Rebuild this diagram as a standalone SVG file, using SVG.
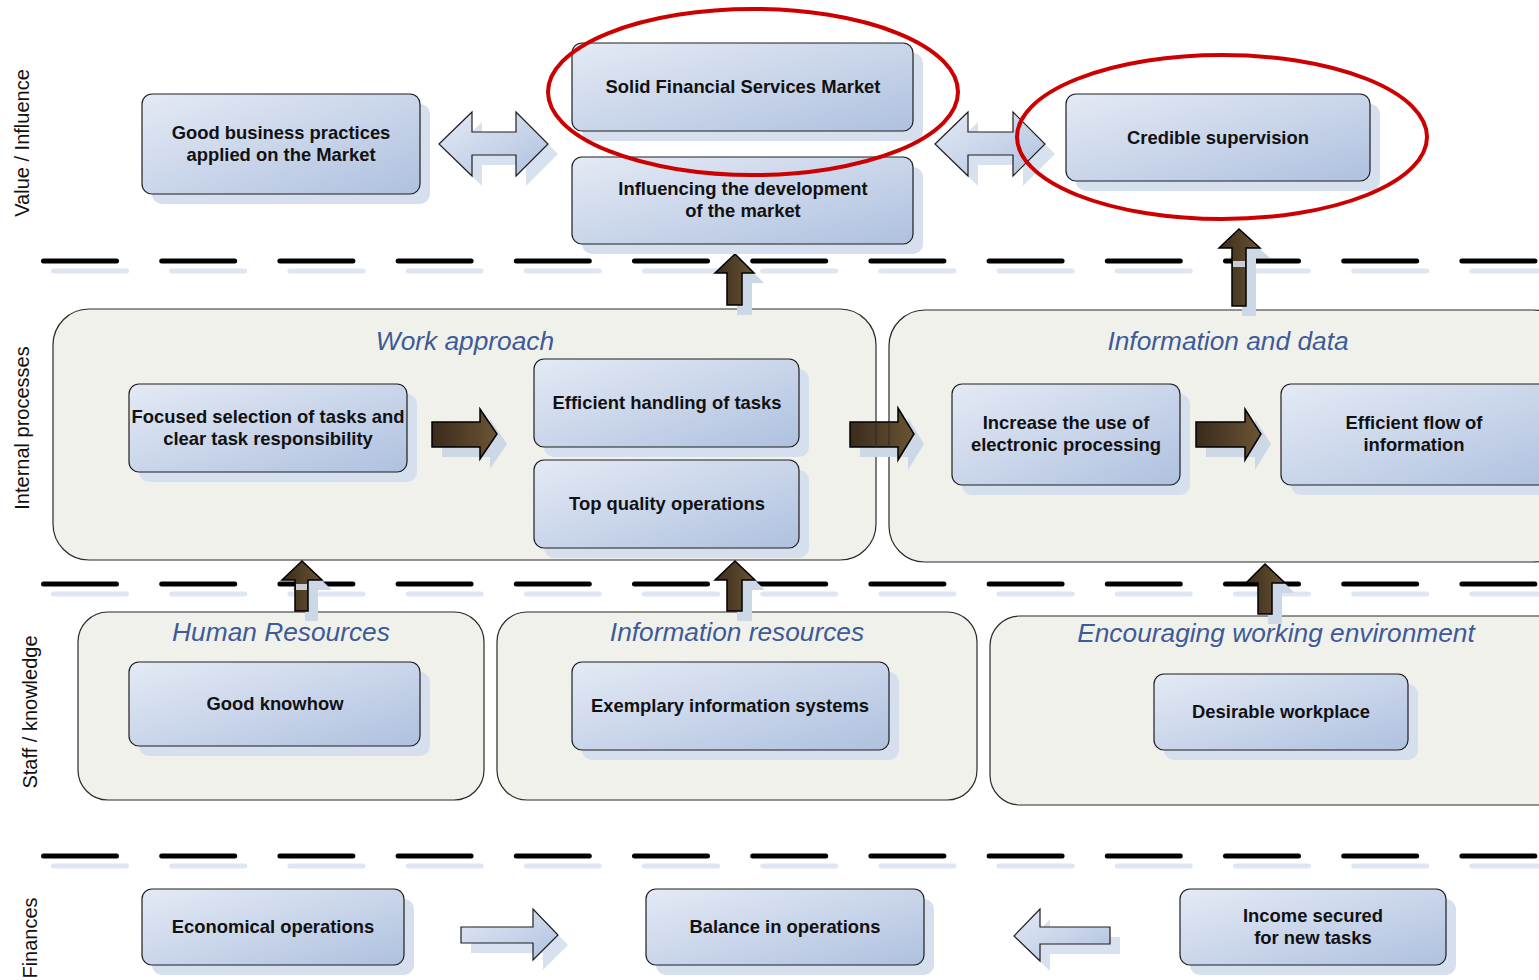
<svg xmlns="http://www.w3.org/2000/svg" width="1539" height="980" viewBox="0 0 1539 980">
<defs>
<linearGradient id="bg" x1="0" y1="0" x2="1" y2="1"><stop offset="0" stop-color="#e4eaf5"/><stop offset="1" stop-color="#afc1df"/></linearGradient>
<linearGradient id="br" x1="0" y1="0" x2="1" y2="0"><stop offset="0" stop-color="#3a2b1c"/><stop offset="1" stop-color="#6a5433"/></linearGradient>
<style>
.sh{fill:#d5dfee}
.box{fill:url(#bg);stroke:#1e1e1e;stroke-width:1.2}
.cont{fill:#f1f1ec;stroke:#2a2a2a;stroke-width:1.2}
.t{font-family:"Liberation Sans",Arial,sans-serif;font-size:18.4px;font-weight:bold;fill:#111;text-anchor:middle}
.ct{font-family:"Liberation Sans",Arial,sans-serif;font-size:26.3px;font-style:italic;fill:#3d5a99;text-anchor:middle}
.lbl{font-family:"Liberation Sans",Arial,sans-serif;font-size:20px;fill:#111;text-anchor:middle}
.dash{stroke:#000;stroke-width:5;stroke-linecap:round;stroke-dasharray:73 45.2;fill:none}
.dsh{stroke:#dde6f2;stroke-width:5;stroke-linecap:round;stroke-dasharray:73 45.2;fill:none}
.ba{fill:url(#bg);stroke:#1e1e1e;stroke-width:1.2}
.bas{fill:#d8e1ef}
.brn{fill:url(#br);stroke:#000;stroke-width:1.5}
.brs{fill:#cdd8e6}
.ell{fill:none;stroke:#cc0000;stroke-width:4}
</style>
</defs>
<rect width="1539" height="980" fill="#fff"/>

<g id="axis-labels">
<text class="lbl" transform="translate(29,143) rotate(-90)">Value / Influence</text>
<text class="lbl" transform="translate(29,428) rotate(-90)">Internal processes</text>
<text class="lbl" transform="translate(37,712) rotate(-90)">Staff / knowledge</text>
<text class="lbl" transform="translate(37,938) rotate(-90)">Finances</text>
</g>

<g id="dividers">
<line class="dsh" x1="53.5" y1="271" x2="1560" y2="271"/>
<line class="dash" x1="43.5" y1="261" x2="1550" y2="261"/>
<line class="dsh" x1="53.5" y1="594" x2="1560" y2="594"/>
<line class="dash" x1="43.5" y1="584" x2="1550" y2="584"/>
<line class="dsh" x1="53.5" y1="866" x2="1560" y2="866"/>
<line class="dash" x1="43.5" y1="856" x2="1550" y2="856"/>
</g>

<g id="containers">
<g id="work-approach"><rect class="cont" x="53" y="309" width="823" height="251" rx="36"/><text class="ct" x="465" y="350">Work approach</text></g>
<g id="information-and-data"><rect class="cont" x="889" y="310" width="680" height="252" rx="36"/><text class="ct" x="1228" y="350">Information and data</text></g>
<g id="human-resources"><rect class="cont" x="78" y="612" width="406" height="188" rx="30"/><text class="ct" x="281" y="641">Human Resources</text></g>
<g id="information-resources"><rect class="cont" x="497" y="612" width="480" height="188" rx="30"/><text class="ct" x="737" y="641">Information resources</text></g>
<g id="encouraging-env"><rect class="cont" x="990" y="616" width="580" height="189" rx="30"/><text class="ct" x="1276" y="642">Encouraging working environment</text></g>
</g>

<g id="connectors">
<path class="bas" d="M449,154 L482,122 L482,142 L526,142 L526,122 L558,154 L526,186 L526,165 L482,165 L482,186 Z"/>
<path class="ba" d="M439,144 L472,112 L472,132 L516,132 L516,112 L548,144 L516,176 L516,155 L472,155 L472,176 Z"/>
<path class="bas" d="M945,154 L978,122 L978,142 L1023,142 L1023,122 L1055,154 L1023,186 L1023,165 L978,165 L978,186 Z"/>
<path class="ba" d="M935,144 L968,112 L968,132 L1013,132 L1013,112 L1045,144 L1013,176 L1013,155 L968,155 L968,176 Z"/>
<path class="bas" d="M471,937 L543,937 L543,919 L568,945 L543,970 L543,953 L471,953 Z"/>
<path class="ba" d="M461,927 L533,927 L533,909 L558,935 L533,960 L533,943 L461,943 Z"/>
<path class="bas" d="M1120,937 L1050,937 L1050,919 L1024,946 L1050,971 L1050,954 L1120,954 Z"/>
<path class="ba" d="M1110,927 L1040,927 L1040,909 L1014,936 L1040,961 L1040,944 L1110,944 Z"/>
<path class="brs" d="M737,283 L725,283 L745,264 L764,283 L752,283 L752,315 L737,315 Z"/>
<path class="brn" d="M727,273 L715,273 L735,254 L754,273 L742,273 L742,305 L727,305 Z"/>
<path class="brs" d="M1242,258 L1229,258 L1249,239 L1270,258 L1256,258 L1256,316 L1242,316 Z"/>
<path class="brn" d="M1232,248 L1219,248 L1239,229 L1260,248 L1246,248 L1246,306 L1232,306 Z"/>
<path class="brs" d="M305,590 L292,590 L312,571 L332,590 L318,590 L318,621 L305,621 Z"/>
<path class="brn" d="M295,580 L282,580 L302,561 L322,580 L308,580 L308,611 L295,611 Z"/>
<path class="brs" d="M737,590 L725,590 L745,571 L765,590 L752,590 L752,621 L737,621 Z"/>
<path class="brn" d="M727,580 L715,580 L735,561 L755,580 L742,580 L742,611 L727,611 Z"/>
<path class="brs" d="M1268,593 L1256,593 L1275,574 L1295,593 L1282,593 L1282,624 L1268,624 Z"/>
<path class="brn" d="M1258,583 L1246,583 L1265,564 L1285,583 L1272,583 L1272,614 L1258,614 Z"/>
<rect x="296" y="584" width="11" height="6" fill="#dde6f2" opacity="0.85"/>
<rect x="1233" y="261" width="12" height="6" fill="#dde6f2" opacity="0.85"/>
<path class="brs" d="M442,432 L490,432 L490,419 L507,444 L490,469 L490,457 L442,457 Z"/>
<path class="brn" d="M432,422 L480,422 L480,409 L497,434 L480,459 L480,447 L432,447 Z"/>
<path class="brs" d="M860,432 L908,432 L908,418 L924,444 L908,470 L908,457 L860,457 Z"/>
<path class="brn" d="M850,422 L898,422 L898,408 L914,434 L898,460 L898,447 L850,447 Z"/>
<line x1="876" y1="422" x2="876" y2="447" stroke="#2a2a2a" stroke-width="1"/>
<line x1="889" y1="422" x2="889" y2="447" stroke="#2a2a2a" stroke-width="1"/>
<path class="brs" d="M1206,432 L1255,432 L1255,419 L1271,444 L1255,470 L1255,457 L1206,457 Z"/>
<path class="brn" d="M1196,422 L1245,422 L1245,409 L1261,434 L1245,460 L1245,447 L1196,447 Z"/>
</g>

<g id="n-good-business"><rect class="sh" x="152" y="104" width="278" height="100" rx="10"/><rect class="box" x="142" y="94" width="278" height="100" rx="10"/><text class="t" x="281" y="139">Good business practices</text><text class="t" x="281" y="161">applied on the Market</text></g>
<g id="n-solid-market"><rect class="sh" x="582" y="53" width="341" height="88" rx="10"/><rect class="box" x="572" y="43" width="341" height="88" rx="10"/><text class="t" x="743" y="93">Solid Financial Services Market</text></g>
<g id="n-influencing"><rect class="sh" x="582" y="167" width="341" height="87" rx="10"/><rect class="box" x="572" y="157" width="341" height="87" rx="10"/><text class="t" x="743" y="195">Influencing the development</text><text class="t" x="743" y="217">of the market</text></g>
<g id="n-credible"><rect class="sh" x="1076" y="104" width="304" height="87" rx="10"/><rect class="box" x="1066" y="94" width="304" height="87" rx="10"/><text class="t" x="1218" y="144">Credible supervision</text></g>
<g id="n-focused"><rect class="sh" x="139" y="394" width="278" height="88" rx="10"/><rect class="box" x="129" y="384" width="278" height="88" rx="10"/><text class="t" x="268" y="423">Focused selection of tasks and</text><text class="t" x="268" y="445">clear task responsibility</text></g>
<g id="n-efficient-handling"><rect class="sh" x="544" y="369" width="265" height="88" rx="10"/><rect class="box" x="534" y="359" width="265" height="88" rx="10"/><text class="t" x="667" y="409">Efficient handling of tasks</text></g>
<g id="n-top-quality"><rect class="sh" x="544" y="470" width="265" height="88" rx="10"/><rect class="box" x="534" y="460" width="265" height="88" rx="10"/><text class="t" x="667" y="510">Top quality operations</text></g>
<g id="n-increase"><rect class="sh" x="962" y="394" width="228" height="101" rx="10"/><rect class="box" x="952" y="384" width="228" height="101" rx="10"/><text class="t" x="1066" y="429">Increase the use of</text><text class="t" x="1066" y="451">electronic processing</text></g>
<g id="n-efficient-flow"><rect class="sh" x="1291" y="394" width="280" height="101" rx="10"/><rect class="box" x="1281" y="384" width="280" height="101" rx="10"/><text class="t" x="1414" y="429">Efficient flow of</text><text class="t" x="1414" y="451">information</text></g>
<g id="n-knowhow"><rect class="sh" x="139" y="672" width="291" height="84" rx="10"/><rect class="box" x="129" y="662" width="291" height="84" rx="10"/><text class="t" x="275" y="710">Good knowhow</text></g>
<g id="n-exemplary"><rect class="sh" x="582" y="672" width="317" height="88" rx="10"/><rect class="box" x="572" y="662" width="317" height="88" rx="10"/><text class="t" x="730" y="712">Exemplary information systems</text></g>
<g id="n-desirable"><rect class="sh" x="1164" y="684" width="254" height="76" rx="10"/><rect class="box" x="1154" y="674" width="254" height="76" rx="10"/><text class="t" x="1281" y="718">Desirable workplace</text></g>
<g id="n-economical"><rect class="sh" x="152" y="899" width="262" height="76" rx="10"/><rect class="box" x="142" y="889" width="262" height="76" rx="10"/><text class="t" x="273" y="933">Economical operations</text></g>
<g id="n-balance"><rect class="sh" x="656" y="899" width="278" height="76" rx="10"/><rect class="box" x="646" y="889" width="278" height="76" rx="10"/><text class="t" x="785" y="933">Balance in operations</text></g>
<g id="n-income"><rect class="sh" x="1190" y="899" width="266" height="76" rx="10"/><rect class="box" x="1180" y="889" width="266" height="76" rx="10"/><text class="t" x="1313" y="922">Income secured</text><text class="t" x="1313" y="944">for new tasks</text></g>

<g id="highlights">
<ellipse class="ell" cx="753" cy="92" rx="205" ry="83"/>
<ellipse class="ell" cx="1222" cy="137" rx="205" ry="82"/>
</g>
</svg>
